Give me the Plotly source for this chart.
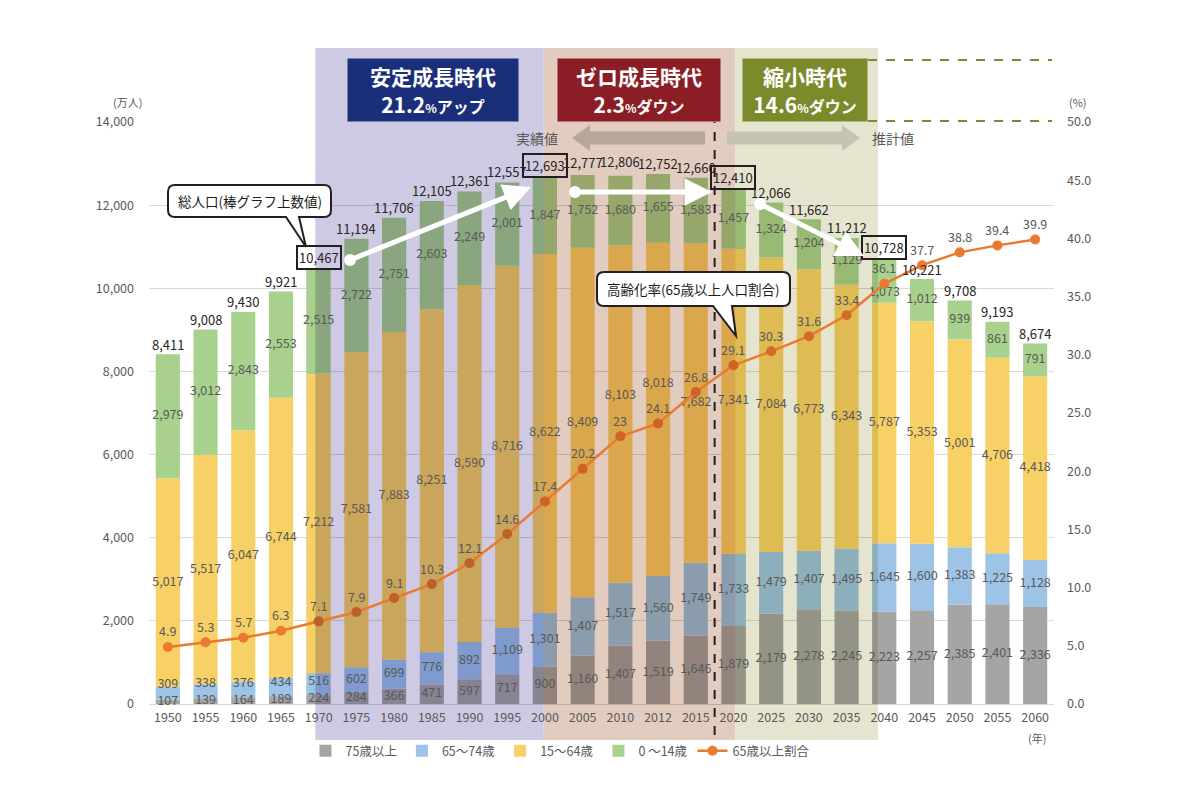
import plotly.graph_objects as go

# ---------------- data ----------------
years = ["1950", "1955", "1960", "1965", "1970", "1975", "1980", "1985", "1990", "1995",
         "2000", "2005", "2010", "2012", "2015", "2020", "2025", "2030", "2035", "2040",
         "2045", "2050", "2055", "2060"]
age_75_over = [107, 139, 164, 189, 224, 284, 366, 471, 597, 717, 900, 1160, 1407, 1519, 1646,
               1879, 2179, 2278, 2245, 2223, 2257, 2385, 2401, 2336]
age_65_74 = [309, 338, 376, 434, 516, 602, 699, 776, 892, 1109, 1301, 1407, 1517, 1560, 1749,
             1733, 1479, 1407, 1495, 1645, 1600, 1383, 1225, 1128]
age_15_64 = [5017, 5517, 6047, 6744, 7212, 7581, 7883, 8251, 8590, 8716, 8622, 8409, 8103, 8018,
             7682, 7341, 7084, 6773, 6343, 5787, 5353, 5001, 4706, 4418]
age_0_14 = [2979, 3012, 2843, 2553, 2515, 2722, 2751, 2603, 2249, 2001, 1847, 1752, 1680, 1655,
            1583, 1457, 1324, 1204, 1129, 1073, 1012, 939, 861, 791]
totals = [8411, 9008, 9430, 9921, 10467, 11194, 11706, 12105, 12361, 12557, 12693, 12777, 12806,
          12752, 12660, 12410, 12066, 11662, 11212, 10728, 10221, 9708, 9193, 8674]
aging_rate = [4.9, 5.3, 5.7, 6.3, 7.1, 7.9, 9.1, 10.3, 12.1, 14.6, 17.4, 20.2, 23.0, 24.1, 26.8,
              29.1, 30.3, 31.6, 33.4, 36.1, 37.7, 38.8, 39.4, 39.9]
boxed_years = ["1970", "2000", "2020", "2040"]

series_names = ["75歳以上", "65〜74歳", "15〜64歳", "0 〜14歳"]
rate_name = "65歳以上割合"

# ---------------- style ----------------
FONT = "Noto Sans CJK JP"
GRAY_TXT = "#595959"
DARK_TXT = "#262626"
series_colors = ["#a5a5a5", "#9dc3e6", "#f7d166", "#a9d18e"]
LINE_COLOR = "#e97a30"

# page body has an 8px margin: figure size / margins in figure px,
# helper coordinates below are in screen px
OFF = 8
W, H = 1185, 784
SX0, SX1, SY0, SY1 = 149, 1054, 122, 704   # plot area on screen
PW, PH = SX1 - SX0, SY1 - SY0
L, T = SX0 - OFF, SY0 - OFF
R, B = W - (SX1 - OFF), H - (SY1 - OFF)
Y_MAX, Y2_MAX = 14000, 50
RATE_SHIFT = 16
MIN_LABEL_GAP = 17   # px between stacked segment labels


def px(x):
    return (x - SX0) / PW


def py(y):
    return (SY1 - y) / PH


def P(x, y):
    return f"{px(x):.5f},{py(y):.5f}"


# era regions (category-index units) and tint colours
regions = [
    (3.91, 9.97, (207, 202, 227)),
    (9.97, 15.05, (226, 204, 192)),
    (15.05, 18.83, (229, 228, 207)),
]


def hex2rgb(h):
    h = h.lstrip("#")
    return tuple(int(h[i:i + 2], 16) for i in (0, 2, 4))


def region_at(pos):
    for x0, x1, tint in regions:
        if x0 <= pos < x1:
            return tint
    return None


def shade(col, tint):
    c = hex2rgb(col)
    if tint is None:
        return "rgb(%d,%d,%d)" % c
    return "rgb(%d,%d,%d)" % tuple(round(a * b / 255) for a, b in zip(c, tint))


def to_px(v):
    return v * PH / Y_MAX


def from_px(p):
    return p * Y_MAX / PH


def avoid_rate_label(i, lab):
    """nudge a segment label (px above baseline) away from the ageing-rate label"""
    rate_lab = aging_rate[i] * PH / Y2_MAX + RATE_SHIFT
    d = lab - rate_lab
    if abs(d) < 13:
        lab = rate_lab + 24 if d > -6 else rate_lab - 25
    return lab


n = len(years)
hw = 0.32
bounds = sorted({r[0] for r in regions} | {r[1] for r in regions})

fig = go.Figure()

series = list(zip(series_names, [age_75_over, age_65_74, age_15_64, age_0_14], series_colors))
base = [0] * n
prev_lab = [None] * n
lab_x, lab_y, lab_t = [], [], []
for name, vals, col in series:
    main_colors = [shade(col, region_at(i)) for i in range(n)]
    fig.add_trace(go.Bar(
        x=years, y=vals, base=base[:], width=[2 * hw] * n, offset=[-hw] * n,
        marker=dict(color=main_colors, line=dict(width=0)), name=name,
        hoverinfo="skip"))
    p_x, p_y, p_b, p_o, p_w, p_c = [], [], [], [], [], []
    for i in range(n):
        for bd in bounds:
            if i - hw < bd < i + hw:
                if bd > i:
                    lo, hi = bd, i + hw
                else:
                    lo, hi = i - hw, bd
                p_x.append(years[i]); p_y.append(vals[i]); p_b.append(base[i])
                p_o.append(lo - i); p_w.append(hi - lo)
                p_c.append(shade(col, region_at((lo + hi) / 2)))
    fig.add_trace(go.Bar(
        x=p_x, y=p_y, base=p_b, offset=p_o, width=p_w,
        marker=dict(color=p_c, line=dict(width=0)), showlegend=False, hoverinfo="skip"))
    for i in range(n):
        lab = to_px(base[i] + vals[i] / 2)
        if prev_lab[i] is not None and lab - prev_lab[i] < MIN_LABEL_GAP:
            lab = prev_lab[i] + MIN_LABEL_GAP
        lab = avoid_rate_label(i, lab)
        prev_lab[i] = lab
        lab_x.append(years[i]); lab_y.append(from_px(lab)); lab_t.append(f"{vals[i]:,}")
    base = [b + v for b, v in zip(base, vals)]

fig.add_trace(go.Scatter(
    x=lab_x, y=lab_y, text=lab_t, mode="text", textposition="middle center",
    textfont=dict(size=12.5, color=GRAY_TXT, family=FONT), showlegend=False,
    hoverinfo="skip", cliponaxis=False))

marker_cols = [shade(LINE_COLOR, region_at(i)) for i in range(n)]
fig.add_trace(go.Scatter(
    x=years, y=aging_rate, yaxis="y2", mode="lines+markers", name=rate_name,
    line=dict(color=LINE_COLOR, width=2.5), marker=dict(size=10, color=marker_cols),
    hoverinfo="skip", cliponaxis=False))

annotations = []
# totals above bars (x given as category index)
for i, (yr, tot) in enumerate(zip(years, totals)):
    a = dict(x=i, y=tot, xref="x", yref="y", text=f"{tot:,}", showarrow=False,
             xanchor="center", yanchor="middle",
             yshift=10, font=dict(size=13, color=DARK_TXT, family=FONT))
    if yr in boxed_years:
        a.update(bordercolor="#231f20", borderwidth=2, borderpad=1, yshift=11)
    annotations.append(a)
# rate labels
for i, v in enumerate(aging_rate):
    annotations.append(dict(x=i, y=v, xref="x", yref="y2", text=f"{v:g}", showarrow=False,
                            xanchor="center", yanchor="middle",
                            yshift=RATE_SHIFT, font=dict(size=12.5, color=GRAY_TXT, family=FONT)))

# era heading boxes
era_boxes = [
    ("安定成長時代", "21.2", "アップ", 348, 518, "#1b2e7a"),
    ("ゼロ成長時代", "2.3", "ダウン", 558, 720, "#8b1d24"),
    ("縮小時代", "14.6", "ダウン", 743, 867, "#7b8a2b"),
]
for t1, num, tail, a, b, c in era_boxes:
    annotations.append(dict(
        x=px((a + b) / 2), y=py(90), xref="paper", yref="paper", xanchor="center",
        yanchor="middle", width=b - a, height=62, bgcolor=c, borderpad=0, showarrow=False,
        align="center", valign="middle",
        text=(f"<b>{t1}</b><br><b>{num}<span style='font-size:12px'>%</span>"
              f"<span style='font-size:16px'>{tail}</span></b>"),
        font=dict(size=21, color="white", family=FONT)))

# misc texts
misc = [("(万人)", 127, 102, 11), ("(%)", 1078, 102, 11), ("(年)", 1037, 738, 11),
        ("実績値", 537, 138, 14), ("推計値", 893, 138, 14)]
for t, x, y, s in misc:
    annotations.append(dict(x=px(x), y=py(y), xref="paper", yref="paper", text=t,
                            showarrow=False, xanchor="center", yanchor="middle",
                            font=dict(size=s, color=GRAY_TXT, family=FONT)))

# bubble texts
annotations.append(dict(x=px(249.5), y=py(201), xref="paper", yref="paper",
                        xanchor="center", yanchor="middle",
                        text="総人口(棒グラフ上数値)", showarrow=False,
                        font=dict(size=13.5, color="#1a1a1a", family=FONT)))
annotations.append(dict(x=px(693.5), y=py(289), xref="paper", yref="paper",
                        xanchor="center", yanchor="middle",
                        text="高齢化率(65歳以上人口割合)", showarrow=False,
                        font=dict(size=13.5, color="#1a1a1a", family=FONT)))

# white trend arrows
white_arrows = [((350, 260), (531, 187)), ((575, 192), (712, 192)), ((760, 204), (864, 256))]
for (tx, ty), (hx, hy) in white_arrows:
    annotations.append(dict(x=px(hx), y=py(hy), xref="paper", yref="paper", ax=tx - hx,
                            ay=ty - hy, text="", showarrow=True, arrowhead=2, arrowsize=1.1,
                            arrowwidth=5, arrowcolor="white", standoff=0, startstandoff=0))

shapes = []
# era background regions
for x0, x1, tint in regions:
    shapes.append(dict(type="rect", xref="x", yref="paper", x0=x0, x1=x1, y0=py(740), y1=py(48),
                       fillcolor="rgb(%d,%d,%d)" % tint, line=dict(width=0), layer="below"))
# olive dashed guide lines
for yy in (60, 121):
    shapes.append(dict(type="line", xref="paper", yref="paper", x0=px(868), x1=px(1052),
                       y0=py(yy), y1=py(yy), line=dict(color="#7b8a2b", width=2, dash="dash"),
                       layer="above"))
# actual / projection divider
shapes.append(dict(type="line", xref="x", yref="paper", x0=14.5, x1=14.5, y0=py(735), y1=py(122),
                   line=dict(color="#231f20", width=2, dash="dash"), layer="above"))


# grey block arrows
def block_arrow(x_tail, x_tip, yc, fill):
    d = 1 if x_tip > x_tail else -1
    hb = x_tip - d * 18
    pts = [(x_tip, yc), (hb, yc - 13), (hb, yc - 6.5), (x_tail, yc - 6.5), (x_tail, yc + 6.5),
           (hb, yc + 6.5), (hb, yc + 13)]
    path = "M " + " L ".join(P(x, y) for x, y in pts) + " Z"
    return dict(type="path", xref="paper", yref="paper", path=path, fillcolor=fill,
                line=dict(width=0), layer="above")


shapes.append(block_arrow(705, 572, 138, "rgb(182,166,155)"))
shapes.append(block_arrow(727, 860, 138, "rgb(197,196,180)"))


# speech bubbles
def bubble(x0, y0, x1, y1, tx0, tx1, tip, r=7):
    tpx, tpy = tip
    path = (f"M {P(x0 + r, y0)} L {P(x1 - r, y0)} Q {P(x1, y0)} {P(x1, y0 + r)} "
            f"L {P(x1, y1 - r)} Q {P(x1, y1)} {P(x1 - r, y1)} L {P(tx1, y1)} L {P(tpx, tpy)} "
            f"L {P(tx0, y1)} L {P(x0 + r, y1)} Q {P(x0, y1)} {P(x0, y1 - r)} "
            f"L {P(x0, y0 + r)} Q {P(x0, y0)} {P(x0 + r, y0)} Z")
    return dict(type="path", xref="paper", yref="paper", path=path, fillcolor="white",
                line=dict(color="#231f20", width=2), layer="above")


shapes.append(bubble(168, 185, 331, 217, 286, 299, (306, 247)))
shapes.append(bubble(597, 272, 790, 306, 713, 732, (736, 336)))

# arrow start dots
for (tx, ty), _ in white_arrows:
    rx, ry = 6 / PW, 6 / PH
    shapes.append(dict(type="circle", xref="paper", yref="paper", x0=px(tx) - rx, x1=px(tx) + rx,
                       y0=py(ty) - ry, y1=py(ty) + ry, fillcolor="white", line=dict(width=0),
                       layer="above"))

fig.update_layout(
    width=W, height=H, margin=dict(l=L, r=R, t=T, b=B, autoexpand=False),
    paper_bgcolor="white", plot_bgcolor="rgba(0,0,0,0)", barmode="overlay",
    font=dict(family=FONT, size=12.5, color=GRAY_TXT),
    xaxis=dict(type="category", range=[-0.5, n - 0.5], showgrid=False, ticks="",
               tickfont=dict(size=12.5, color=GRAY_TXT), ticklabelstandoff=4, zeroline=False),
    yaxis=dict(range=[0, Y_MAX], dtick=2000, tickformat=",", showgrid=True,
               gridcolor="rgba(0,0,0,0.15)", gridwidth=1, zeroline=True,
               zerolinecolor="rgba(0,0,0,0.15)", zerolinewidth=1, ticks="",
               tickfont=dict(size=12.5, color=GRAY_TXT), ticklabelstandoff=14),
    yaxis2=dict(range=[0, Y2_MAX], dtick=5, tickformat=".1f", overlaying="y", side="right",
                showgrid=False, zeroline=False, ticks="",
                tickfont=dict(size=12.5, color=GRAY_TXT), ticklabelstandoff=12),
    legend=dict(orientation="h", x=px(560), xanchor="center", y=py(751), yanchor="middle",
                bgcolor="rgba(0,0,0,0)", font=dict(size=12.5, color=GRAY_TXT, family=FONT)),
    annotations=annotations, shapes=shapes, showlegend=True,
)

fig.write_html("out.html")
